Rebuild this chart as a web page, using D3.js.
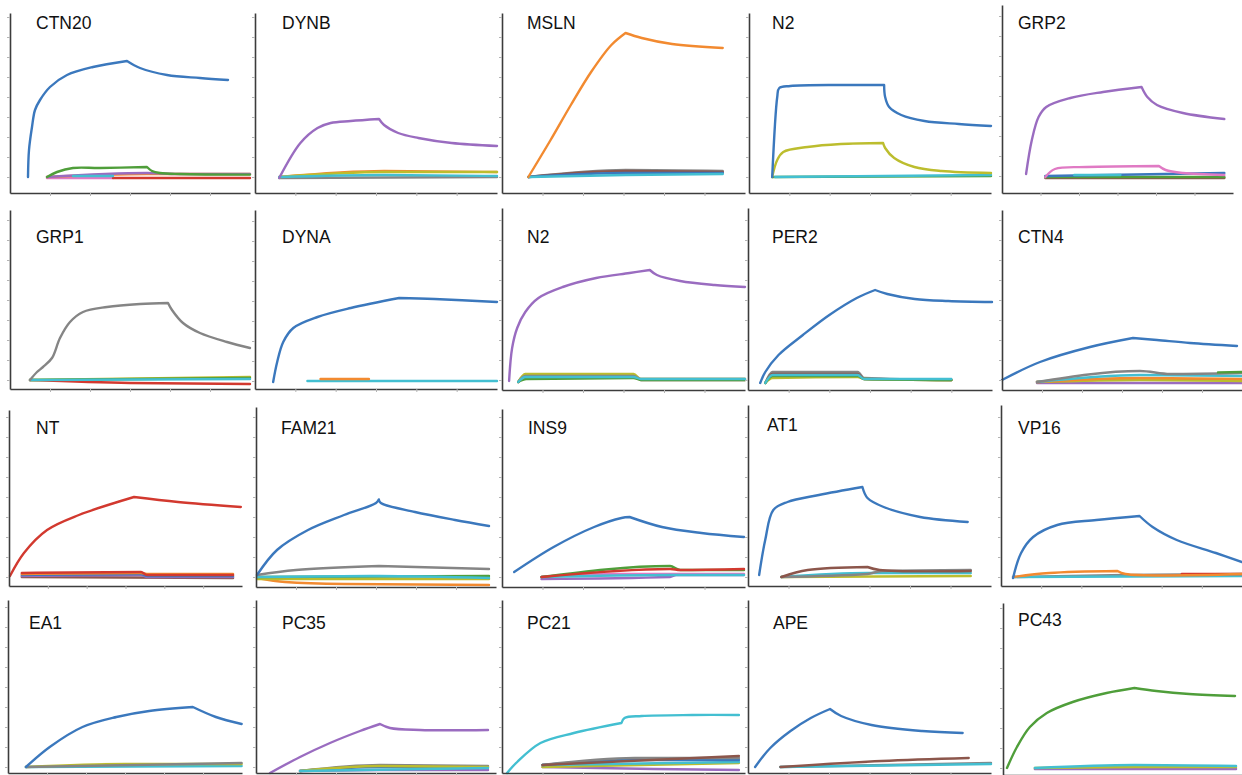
<!DOCTYPE html>
<html>
<head>
<meta charset="utf-8">
<script src="https://cdn.jsdelivr.net/npm/d3@7"></script>
<style>
  html, body { margin: 0; padding: 0; background: #fff; }
  svg { display: block; }
</style>
</head>
<body>
<svg id="chart" width="1242" height="775"></svg>
<script>
// Colour of each analyte series (index used as "s" in the curve arrays)
const seriesColors = ["#3b78bd", "#f28a30", "#4f9e3a", "#d2392f", "#9a6cc0",
                      "#8c564b", "#e07ac4", "#858585", "#bcbd2e", "#43bfd1"];

// Ligand immobilised in each panel
const titles = ["CTN20", "DYNB", "MSLN", "N2", "GRP2",
                "GRP1", "DYNA", "N2", "PER2", "CTN4",
                "NT", "FAM21", "INS9", "AT1", "VP16",
                "EA1", "PC35", "PC21", "APE", "PC43"];

// Sensorgrams: s = analyte series, stop = end of injection (s),
// pts = [time (s), response (RU)]
const CTN20 = [
  { s: 6, pts: [[92.5, -0.5], [257.5, -0.5]] },
  { s: 3, pts: [[257.5, -0.5], [600, -0.5]] },
  { s: 1, pts: [[92.5, 0], [342.5, 1.5], [600, 1.5]] },
  { s: 4, pts: [[92.5, 0], [342.5, 2], [420, 1.5], [600, 1.5]] },
  { s: 9, pts: [[157.5, 0.5], [257.5, 0.5]] },
  { s: 2, stop: 342.5, pts: [[92.5, 0], [117.5, 2.5], [157.5, 4.5], [225, 4.5], [342.5, 5], [355, 3], [375, 2], [425, 1.5], [600, 1.2]] },
  { s: 0, stop: 292.5, pts: [[45, 0], [47.5, 13.5], [55, 25], [62.5, 33.5], [75, 38.5], [100, 45], [142.5, 51], [207.5, 55], [292.5, 58], [325, 54.5], [392.5, 51], [475, 49.5], [545, 48.5]] }
];
const DYNB = [
  { s: 7, pts: [[60, -0.5], [600, 0]] },
  { s: 1, pts: [[60, 0], [320, 3], [600, 2.5]] },
  { s: 8, pts: [[60, 0], [320, 2.5], [600, 2.5]] },
  { s: 9, pts: [[60, 0], [320, 1], [600, 0.5]] },
  { s: 4, stop: 307.5, pts: [[60, -0.5], [112.5, 17], [155, 24.5], [187.5, 27], [237.5, 28], [307.5, 29], [320, 26], [355, 22], [405, 19.5], [487.5, 17], [600, 15.5]] }
];
const MSLN = [
  { s: 7, pts: [[65, 0], [305, 3.5], [545, 3]] },
  { s: 5, pts: [[65, 0], [305, 3], [545, 2.5]] },
  { s: 0, pts: [[65, 0], [305, 2], [545, 2]] },
  { s: 9, pts: [[65, 0], [305, 1], [545, 1.5]] },
  { s: 1, stop: 305, pts: [[65, 0], [120, 18.5], [170, 36], [220, 52.5], [270, 66], [305, 72], [345, 69.5], [420, 66.5], [545, 64.5]] }
];
const N2_a = [
  { s: 2, pts: [[57.5, 0], [600, 0.5]] },
  { s: 9, pts: [[65, 0], [600, 1]] },
  { s: 8, stop: 332.5, pts: [[57.5, 0], [70, 8.5], [85, 12.5], [145, 15], [227.5, 16.5], [332.5, 17], [337.5, 14.5], [360, 9.5], [410, 5], [477.5, 3], [600, 2]] },
  { s: 0, stop: 335, pts: [[57.5, 0], [70, 40], [75, 44.5], [102.5, 45.5], [227.5, 46], [335, 46], [337.5, 40], [347.5, 35], [377.5, 31], [435, 28], [520, 26.5], [600, 25.5]] }
];
const GRP2 = [
  { s: 5, pts: [[112.5, -1], [577.5, -1]] },
  { s: 2, pts: [[112.5, -0.5], [577.5, -0.5]] },
  { s: 0, pts: [[112.5, 0], [577.5, 1.5]] },
  { s: 9, pts: [[187.5, 0.5], [307.5, 0.5]] },
  { s: 6, stop: 407.5, pts: [[112.5, -0.5], [137.5, 3.5], [220, 4.5], [407.5, 5], [425, 3], [470, 1.5], [577.5, 0.5]] },
  { s: 4, stop: 362.5, pts: [[62.5, 1], [77.5, 18], [95, 29.5], [115, 34.5], [177.5, 39], [262.5, 42], [362.5, 44.5], [377.5, 39.5], [402.5, 35.5], [470, 31.5], [577.5, 28.5]] }
];
const GRP1 = [
  { s: 3, pts: [[50, 0], [300, -1.5], [600, -2]] },
  { s: 8, pts: [[50, 0], [600, 1.5]] },
  { s: 2, pts: [[50, 0], [600, 1]] },
  { s: 9, pts: [[50, 0], [600, 0.5]] },
  { s: 7, stop: 395, pts: [[50, 0], [67.5, 4], [82.5, 6.5], [105, 11], [125, 21], [150, 29], [182.5, 34], [242.5, 36.5], [325, 38], [395, 38.5], [405, 35], [432.5, 28.5], [475, 23.5], [542.5, 19], [600, 16]] }
];
const DYNA = [
  { s: 9, pts: [[130, 0], [600, 0]] },
  { s: 1, pts: [[162.5, 1], [282.5, 1]] },
  { s: 0, stop: 357.5, pts: [[45, -0.5], [55, 9.5], [70, 19.5], [95, 26.5], [155, 32], [237.5, 36.5], [357.5, 41.5], [445, 41], [600, 39.5]] }
];
const N2_b = [
  { s: 5, pts: [[40, -1], [57.5, 2.5], [325, 2.5], [342.5, 0], [600, 0]] },
  { s: 8, pts: [[40, -1], [57.5, 3], [325, 3], [342.5, 0.5], [600, 0.5]] },
  { s: 7, pts: [[40, -1], [57.5, 2], [325, 2], [342.5, 0.5], [600, 0.5]] },
  { s: 2, pts: [[40, -1], [60, 0.5], [325, 1], [342.5, 0], [600, 0]] },
  { s: 9, pts: [[40, -1], [57.5, 1.5], [325, 1.5], [342.5, 0.5], [600, 0.5]] },
  { s: 4, stop: 365, pts: [[17.5, -0.5], [25, 16], [37.5, 26], [57.5, 34], [90, 41], [150, 46.5], [232.5, 51], [315, 53.5], [365, 55], [382.5, 52.5], [440, 49.5], [525, 47.5], [600, 46.5]] }
];
const PER2 = [
  { s: 7, pts: [[42.5, -1.5], [60, 4], [270, 4], [285, 1], [500, 0]] },
  { s: 5, pts: [[42.5, -1.5], [60, 3], [270, 3], [285, 0.5], [500, 0]] },
  { s: 8, pts: [[42.5, -1.5], [60, 1], [270, 1.5], [285, 0.5], [500, 0]] },
  { s: 2, pts: [[42.5, -1.5], [60, 2], [270, 2], [285, 0.5], [500, 0]] },
  { s: 9, pts: [[42.5, -1.5], [60, 2.5], [270, 2.5], [285, 0.5], [500, 0.5]] },
  { s: 0, stop: 312.5, pts: [[30, -1.5], [42.5, 4], [75, 12.5], [135, 22.5], [200, 32.5], [267.5, 41], [312.5, 45], [342.5, 43], [410, 40.5], [492.5, 39.5], [600, 39]] }
];
const CTN4 = [
  { s: 4, pts: [[87.5, -1.5], [600, -1.5]] },
  { s: 3, pts: [[87.5, -1], [345, 0.5], [600, 0]] },
  { s: 8, pts: [[87.5, -1], [345, 0], [600, -0.5]] },
  { s: 1, pts: [[87.5, -1], [345, 1], [600, 0.5]] },
  { s: 9, pts: [[87.5, -1], [345, 2.5], [600, 2]] },
  { s: 7, pts: [[87.5, -1], [345, 4.5], [420, 3], [600, 3.5]] },
  { s: 2, pts: [[540, 3.8], [600, 4]] },
  { s: 0, stop: 327.5, pts: [[0, 0], [95, 9], [220, 16.5], [327.5, 21], [387.5, 20], [470, 18.5], [587.5, 17]] }
];
const NT = [
  { s: 5, pts: [[33, 0], [577, -0.5]] },
  { s: 4, pts: [[33, 0.5], [340, 1], [355, 0], [577, 0]] },
  { s: 0, pts: [[33, 1], [340, 1.5], [355, 0.5], [577, 0.5]] },
  { s: 1, pts: [[33, 1.5], [340, 2], [355, 1.5], [577, 1.5]] },
  { s: 3, pts: [[33, 2], [340, 2.5], [355, 1], [577, 1]] },
  { s: 3, stop: 322, pts: [[2.5, 0.5], [38.5, 12], [98, 23.5], [180, 31], [322, 40], [435, 37.5], [597, 35]] }
];
const FAM21 = [
  { s: 1, pts: [[2.5, -0.5], [72.5, -2.5], [220, -3.5], [582.5, -4]] },
  { s: 8, pts: [[2.5, -1], [582.5, -1]] },
  { s: 2, pts: [[2.5, 0], [582.5, 0.5]] },
  { s: 9, pts: [[2.5, 0], [307.5, 0.5], [582.5, -0.5]] },
  { s: 7, stop: 307.5, pts: [[2.5, 1], [100, 3.5], [307.5, 5.5], [582.5, 4]] },
  { s: 0, stop: 307, pts: [[2.5, 1], [52.5, 13.5], [130, 23.5], [220, 31], [300, 37], [307, 38.8], [312, 37], [397.5, 32.5], [497.5, 28.5], [582.5, 25.5]] }
];
const INS9 = [
  { s: 4, pts: [[97.5, -1], [415, 0], [430, 1], [597.5, 1]] },
  { s: 6, pts: [[97.5, 0], [220, 1.5], [597.5, 1.5]] },
  { s: 9, pts: [[97.5, 0], [415, 1], [597.5, 1]] },
  { s: 2, pts: [[97.5, 0], [415, 5.5], [440, 3.5], [597.5, 3.5]] },
  { s: 3, pts: [[97.5, 0], [415, 4], [440, 3.5], [597.5, 4]] },
  { s: 0, stop: 315, pts: [[30, 2.5], [127.5, 15], [227.5, 25], [295, 29.5], [315, 30], [395, 25], [492.5, 22], [597.5, 20]] }
];
const AT1 = [
  { s: 8, pts: [[82.5, 0], [550, 0.5]] },
  { s: 9, pts: [[82.5, 0], [295, 2], [550, 2]] },
  { s: 7, pts: [[82.5, 0], [295, 1.5], [330, 3], [550, 3.5]] },
  { s: 5, stop: 295, pts: [[82.5, 0], [147.5, 3.5], [295, 5], [325, 3.5], [550, 3]] },
  { s: 0, stop: 282.5, pts: [[27.5, 1], [42.5, 18.5], [62.5, 33.5], [97.5, 37.5], [175, 41], [282.5, 45], [295, 39.5], [335, 35], [425, 30], [542.5, 27.5]] }
];
const VP16 = [
  { s: 7, pts: [[30, 0], [310, 1], [600, 1.5]] },
  { s: 9, pts: [[30, 0], [600, 0.5]] },
  { s: 3, pts: [[450, 1.5], [600, 1.5]] },
  { s: 1, stop: 290, pts: [[30, 0], [120, 2], [290, 3], [310, 1.5], [600, 1.5]] },
  { s: 0, stop: 345, pts: [[30, -0.5], [50, 12], [80, 20], [140, 26], [237.5, 28.5], [345, 30.5], [377.5, 25], [437.5, 18.5], [535, 12], [600, 7.5]] }
];
const EA1 = [
  { s: 9, pts: [[46, 0], [599, 0.5]] },
  { s: 8, pts: [[46, 0], [300, 1.5], [599, 1.5]] },
  { s: 7, pts: [[46, 0], [599, 2]] },
  { s: 0, stop: 474, pts: [[46, 0], [107, 10], [191, 20], [278, 25], [362, 28], [474, 30], [533, 25], [599, 21.5]] }
];
const PC35 = [
  { s: 4, pts: [[110, -2], [310, -1.5], [580, -1.5]] },
  { s: 0, pts: [[110, -2], [310, 0], [580, 0]] },
  { s: 7, pts: [[110, -2], [310, 1], [580, 0.5]] },
  { s: 8, pts: [[110, -2], [310, 0.5], [580, 0]] },
  { s: 9, pts: [[110, -2], [580, -0.5]] },
  { s: 4, stop: 310, pts: [[35, -3], [110, 5], [185, 12], [260, 18], [310, 21.5], [335, 19.5], [410, 18.5], [580, 18.5]] }
];
const PC21 = [
  { s: 4, pts: [[100, 0], [375, -1], [585, -1.5]] },
  { s: 8, pts: [[100, 0], [585, 2]] },
  { s: 9, pts: [[100, 1], [585, 2.5]] },
  { s: 0, pts: [[100, 1], [327.5, 3.5], [585, 3.5]] },
  { s: 7, pts: [[100, 1], [327.5, 4.5], [585, 4.5]] },
  { s: 5, pts: [[100, 1], [585, 5.5]] },
  { s: 9, stop: 295, pts: [[12.5, -3], [37.5, 2.5], [95, 12], [177.5, 17], [295, 22], [302.5, 24.5], [345, 25.5], [470, 26], [585, 26]] }
];
const APE = [
  { s: 7, pts: [[80, 0], [600, 2]] },
  { s: 9, pts: [[80, 0], [600, 1.5]] },
  { s: 5, pts: [[80, 0], [330, 3], [545, 4.5]] },
  { s: 0, stop: 202.5, pts: [[17.5, 0], [55, 9.5], [105, 18], [155, 24.5], [202.5, 29], [230, 25.5], [305, 21], [430, 18], [530, 17]] }
];
const PC43 = [
  { s: 4, pts: [[80, -0.5], [585, -0.5]] },
  { s: 8, pts: [[80, 0], [330, 0.5], [585, 0.5]] },
  { s: 9, pts: [[80, 0], [330, 1.5], [585, 1]] },
  { s: 2, stop: 330, pts: [[10, 0], [35, 10.5], [67.5, 20.5], [110, 27.5], [175, 33], [260, 37.5], [330, 40], [385, 38.5], [467.5, 37], [582.5, 36]] }
];

const curveSets = [CTN20, DYNB, MSLN, N2_a, GRP2,
                   GRP1, DYNA, N2_b, PER2, CTN4,
                   NT, FAM21, INS9, AT1, VP16,
                   EA1, PC35, PC21, APE, PC43];

// Time axis range (s) and tick spacing
const timeRange = [0, 600];
const timeTicks = [100, 200, 300, 400, 500];

// Response axis range (RU) of every panel
const respLow  = [-8, -8, -8, -8, -8.5,  -4.5, -4, -5, -5, -5,  -4.5, -5, -5, -4.5, -4.5,  -3, -3, -3, -3, -3.5];
const respHigh = [82, 82, 82, 82, 85.5,  85, 85.5, 86, 86, 85,  83.5, 85, 84, 86, 86,  83.5, 83.5, 83.5, 83.5, 82.5];
const respTicks = [0, 10, 20, 30, 40, 50, 60, 70, 80];

// Panel frames: [left, top, right, bottom, title x, title baseline]
const frames = [
  [10, 13, 250, 193, 36, 29], [255, 13, 497, 193, 282, 29], [502, 13, 745, 193, 527, 29],
  [749, 13, 991, 193, 772, 29], [1002, 5, 1233, 193, 1018, 29],
  [10, 210, 250, 389, 36, 243], [255, 210, 497, 389, 282, 243], [502, 208, 745, 390, 527, 243],
  [748, 208, 992, 390, 772, 243], [1002, 210, 1242, 390, 1018, 243],
  [9, 410, 242, 586, 36, 434], [256, 407, 496, 587, 281, 434], [502, 409, 745, 587, 528, 434],
  [748, 405, 991, 586, 767, 431], [1001, 405, 1242, 586, 1018, 434],
  [8, 600, 242, 773, 29, 629], [256, 600, 496, 773, 282, 629], [502, 600, 745, 773, 527, 629],
  [748, 600, 991, 773, 773, 629], [1003, 603, 1242, 775, 1018, 626]
];

const svg = d3.select("#chart");

curveSets.forEach((curves, i) => {
  const [L, T, R, B, tx, ty] = frames[i];
  const x = d3.scaleLinear().domain(timeRange).range([L, R]);
  const y = d3.scaleLinear().domain([respLow[i], respHigh[i]]).range([B, T]);
  const g = svg.append("g").attr("class", "panel");

  // Association and dissociation phases are smoothed separately so the
  // injection-stop cusp stays sharp; flat reference traces use a monotone fit.
  const smooth = d3.line().x(d => x(d[0])).y(d => y(d[1])).curve(d3.curveCatmullRom.alpha(0.5));
  const flat = d3.line().x(d => x(d[0])).y(d => y(d[1])).curve(d3.curveMonotoneX);
  const tracePath = c => {
    if (c.stop === undefined) return flat(c.pts);
    const assoc = c.pts.filter(p => p[0] <= c.stop);
    const dissoc = c.pts.filter(p => p[0] >= c.stop);
    return smooth(assoc) + smooth(dissoc).replace(/^M[^CL]*/, m => "L" + m.slice(1));
  };

  g.selectAll("path.trace")
    .data(curves)
    .join("path")
    .attr("class", "trace")
    .attr("d", tracePath)
    .attr("fill", "none")
    .attr("stroke", d => seriesColors[d.s])
    .attr("stroke-width", 2.4)
    .attr("stroke-linejoin", "round")
    .attr("stroke-linecap", "round");

  // Axes
  const xAxis = d3.axisBottom(x).tickValues(timeTicks).tickSize(3).tickSizeOuter(0).tickFormat("");
  const yAxis = d3.axisLeft(y).tickValues(respTicks.filter(v => v <= respHigh[i])).tickSize(3).tickSizeOuter(0).tickFormat("");
  const gx = g.append("g").attr("transform", `translate(0,${B})`).call(xAxis);
  const gy = g.append("g").attr("transform", `translate(${L},0)`).call(yAxis);
  [gx, gy].forEach(a => {
    a.select(".domain").attr("stroke", "#3c3c3c").attr("stroke-width", 1.6);
    a.selectAll(".tick line").attr("stroke", "#b4b4b4").attr("stroke-width", 1);
  });

  // Panel title
  g.append("text")
    .attr("x", tx)
    .attr("y", ty)
    .attr("font-family", "'Liberation Sans', Arial, sans-serif")
    .attr("font-size", 17.5)
    .attr("fill", "#111")
    .text(titles[i]);
});
</script>
</body>
</html>
